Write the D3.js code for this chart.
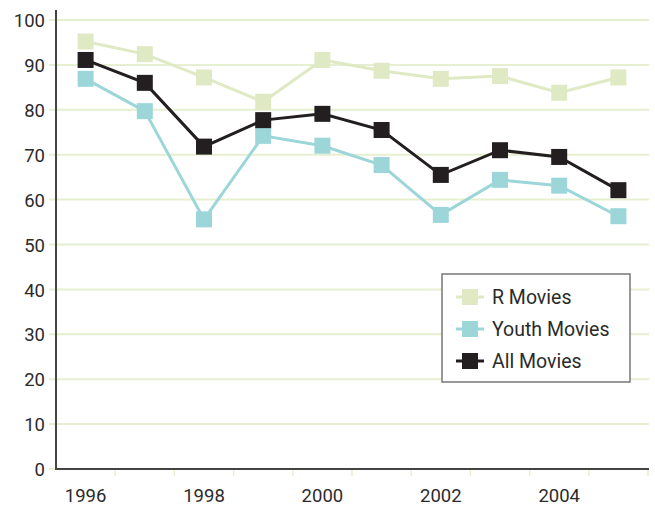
<!DOCTYPE html>
<html>
<head>
<meta charset="utf-8">
<script src="https://cdn.jsdelivr.net/npm/d3@7/dist/d3.min.js"></script>
<style>
  body { margin: 0; background: #fff; }
  svg text { font-family: Roboto, "DejaVu Sans", sans-serif; fill: #2b2b2b; }
</style>
</head>
<body>
<div id="chart"></div>
<script>
var years = [1996, 1997, 1998, 1999, 2000, 2001, 2002, 2003, 2004, 2005];
var yearLabels = [1996, 1998, 2000, 2002, 2004];
var yTicks = [0, 10, 20, 30, 40, 50, 60, 70, 80, 90, 100];
var rMovies = [95.2, 92.4, 87.2, 81.8, 91.1, 88.7, 86.9, 87.5, 83.8, 87.2];
var youthMovies = [86.9, 79.7, 55.6, 74.2, 72.0, 67.7, 56.6, 64.4, 63.1, 56.3];
var allMovies = [91.1, 86.0, 71.8, 77.7, 79.1, 75.5, 65.5, 71.0, 69.5, 62.1];
var seriesNames = ["R Movies", "Youth Movies", "All Movies"];
var seriesColors = ["#dfeac4", "#9cd6d9", "#231f20"];

(function(){
  var series = [rMovies, youthMovies, allMovies];
  var W = 655, H = 507;
  var mLeft = 56, mRight = 649, mTop = 20, mBottom = 469;

  var svg = d3.select("#chart").append("svg")
    .attr("width", W).attr("height", H);

  var x = d3.scaleBand().domain(years).range([mLeft, mRight - 1]);
  var y = d3.scaleLinear().domain([0, 100]).range([mBottom, mTop]);

  // gridlines
  svg.append("g").selectAll("line").data(yTicks).enter().append("line")
    .attr("x1", mLeft - 7).attr("x2", mRight)
    .attr("y1", function(d){ return y(d); })
    .attr("y2", function(d){ return y(d); })
    .style("stroke", "#e6efd0").style("stroke-width", 2);

  // x tick marks at band boundaries
  svg.append("g").selectAll("line").data(years).enter().append("line")
    .attr("x1", function(d){ return x(d) + x.bandwidth(); })
    .attr("x2", function(d){ return x(d) + x.bandwidth(); })
    .attr("y1", mBottom).attr("y2", mBottom + 7)
    .style("stroke", "#e6efd0").style("stroke-width", 1.5);

  // y axis labels
  var yAxis = d3.axisLeft(y).tickValues(yTicks).tickSize(0).tickPadding(0);
  var gy = svg.append("g").attr("transform", "translate(" + (mLeft - 11) + ",0)").call(yAxis);
  gy.select(".domain").remove();
  gy.selectAll("text").style("font-size", "18.5px").attr("dy", "0.36em");

  // x axis labels
  var xAxis = d3.axisBottom(x).tickValues(yearLabels).tickSize(0).tickPadding(0);
  var gx = svg.append("g").attr("transform", "translate(0," + (mBottom + 20) + ")").call(xAxis);
  gx.select(".domain").remove();
  gx.selectAll("text").style("font-size", "18.5px").attr("dy", "0.71em");

  // axis lines
  svg.append("line").attr("x1", mLeft).attr("x2", mLeft).attr("y1", 10).attr("y2", mBottom + 1)
    .style("stroke", "#444").style("stroke-width", 2);
  svg.append("line").attr("x1", mLeft).attr("x2", mRight).attr("y1", mBottom).attr("y2", mBottom)
    .style("stroke", "#444").style("stroke-width", 2);

  var line = d3.line()
    .x(function(d, i){ return x(years[i]) + x.bandwidth() / 2; })
    .y(function(d){ return y(d); });

  var sq = 16;
  series.forEach(function(vals, s){
    var g = svg.append("g");
    g.append("path").datum(vals).attr("d", line)
      .style("fill", "none").style("stroke", seriesColors[s]).style("stroke-width", 3);
    g.selectAll("rect").data(vals).enter().append("rect")
      .attr("x", function(d, i){ return x(years[i]) + x.bandwidth() / 2 - sq / 2; })
      .attr("y", function(d){ return y(d) - sq / 2; })
      .attr("width", sq).attr("height", sq)
      .style("fill", seriesColors[s]);
  });

  // legend
  var lg = svg.append("g").attr("transform", "translate(442,274)");
  lg.append("rect").attr("width", 188).attr("height", 108)
    .style("fill", "#fff").style("stroke", "#777").style("stroke-width", 1.5);
  seriesNames.forEach(function(name, i){
    var cy = 23 + i * 32;
    lg.append("line").attr("x1", 14).attr("x2", 42).attr("y1", cy).attr("y2", cy)
      .style("stroke", seriesColors[i]).style("stroke-width", 3);
    lg.append("rect").attr("x", 20).attr("y", cy - 8).attr("width", 16).attr("height", 16)
      .style("fill", seriesColors[i]);
    lg.append("text").attr("x", 50).attr("y", cy).attr("dy", "0.36em")
      .style("font-size", "19.5px").text(name);
  });
})();
</script>
</body>
</html>
